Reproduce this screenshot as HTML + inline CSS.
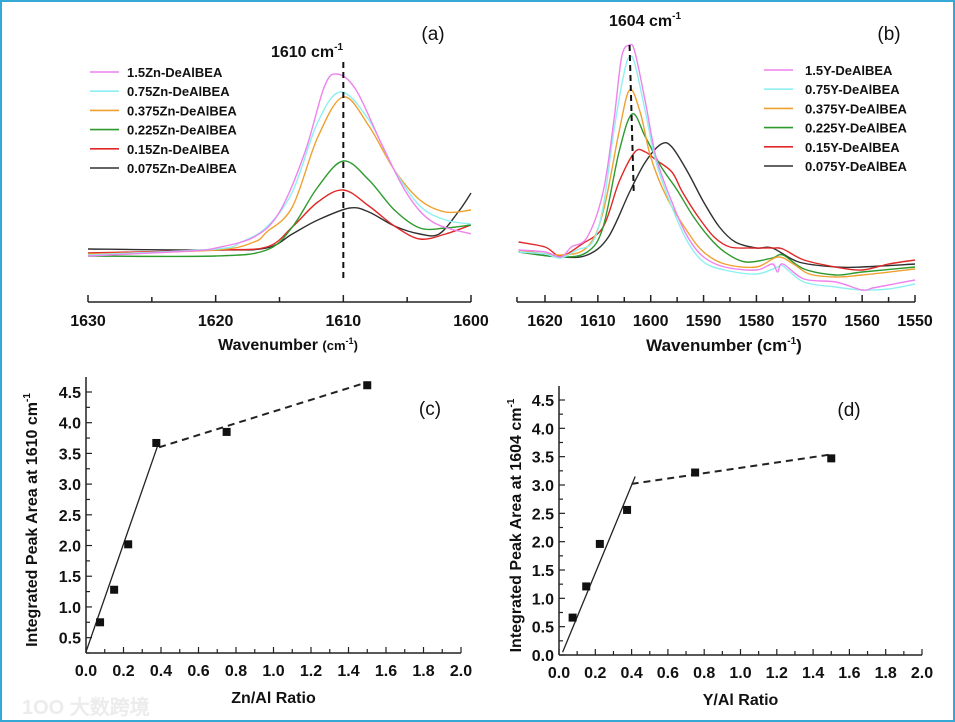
<!DOCTYPE html>
<html><head><meta charset="utf-8">
<style>
html,body{margin:0;padding:0;background:#fff;}
#wrap{position:relative;width:955px;height:722px;box-sizing:border-box;border:2px solid #35a8d6;overflow:hidden;}
svg{position:absolute;left:0;top:0;}
text{font-family:"Liberation Sans",Arial,sans-serif;}
</style></head>
<body>
<div id="wrap">
<svg id="fig" width="955" height="722" viewBox="0 0 955 722"></svg>
</div>
<script>
// ---------- DATA ----------
const seriesNamesA = ["1.5Zn-DeAlBEA","0.75Zn-DeAlBEA","0.375Zn-DeAlBEA","0.225Zn-DeAlBEA","0.15Zn-DeAlBEA","0.075Zn-DeAlBEA"];
const seriesNamesB = ["1.5Y-DeAlBEA","0.75Y-DeAlBEA","0.375Y-DeAlBEA","0.225Y-DeAlBEA","0.15Y-DeAlBEA","0.075Y-DeAlBEA"];
const seriesColors = ["#ee82ee","#8ef0f0","#f0a030","#2e9a2e","#e02828","#303030"];
const ticksA = [1630,1625,1620,1615,1610,1605,1600];
const tickLabelsA = ["1630","","1620","","1610","","1600"];
const ticksB = [1620,1615,1610,1605,1600,1595,1590,1585,1580,1575,1570,1565,1560,1555,1550];
const tickLabelsB = ["1620","","1610","","1600","","1590","","1580","","1570","","1560","","1550"];
// spectra: [wavenumber, absorbance (arb.)]
const specA_pink   = [[1630,-4],[1622,1],[1620,4],[1617,15],[1615,40],[1613,100],[1611.5,165],[1610.5,178],[1609,162],[1607,108],[1605,58],[1603,30],[1600,18]];
const specA_cyan   = [[1630,-3],[1620,3],[1618,10],[1616,25],[1614,60],[1612,130],[1610.2,160],[1608,132],[1606,82],[1604,46],[1602,32],[1600,28]];
const specA_orange = [[1630,-2],[1620,2],[1617,10],[1616,20],[1614,45],[1612,115],[1610,155],[1608,126],[1606,82],[1604,52],[1602,40],[1600,42]];
const specA_green  = [[1630,-4],[1620,-4],[1616,2],[1614,25],[1612,65],[1610,91],[1608,72],[1606,42],[1604,24],[1602,24],[1600,27]];
const specA_red    = [[1630,-1],[1620,2],[1616,5],[1614,25],[1612,50],[1610,62],[1608,46],[1606,26],[1604,13],[1602,18],[1600,27]];
const specA_black  = [[1630,3],[1620,2],[1616,4],[1614,18],[1612,32],[1609.5,44],[1608,40],[1606,26],[1604,18],[1602.5,18],[1601,40],[1600,59]];
const specB_pink   = [[1625,2],[1620,0],[1617,-5],[1615,5],[1612,15],[1609,60],[1607,130],[1605.5,195],[1604,207],[1603,200],[1601,150],[1599,95],[1596,50],[1593,15],[1590,-5],[1586,-15],[1580,-18],[1577,-12],[1576,-20],[1575,-12],[1571,-27],[1565,-30],[1560,-38],[1558,-36],[1555,-33],[1550,-28]];
const specB_cyan   = [[1625,0],[1620,-2],[1617,-6],[1614,2],[1611,10],[1609,45],[1607,120],[1605,180],[1604,195],[1603,188],[1601,140],[1599,90],[1596,45],[1593,10],[1590,-10],[1586,-18],[1580,-22],[1576,-15],[1575,-14],[1571,-30],[1565,-35],[1560,-38],[1555,-37],[1550,-32]];
const specB_orange = [[1625,2],[1617,-3],[1612,5],[1609,40],[1606,120],[1604,162],[1602,140],[1600,95],[1597,55],[1593,20],[1590,0],[1586,-12],[1580,-15],[1576,-5],[1573,-12],[1570,-22],[1565,-25],[1560,-23],[1550,-17]];
const specB_green  = [[1625,0],[1617,-5],[1612,0],[1609,25],[1606,100],[1603.5,138],[1601,115],[1598,85],[1595,62],[1592,36],[1589,15],[1586,0],[1582,-10],[1577,-6],[1575,-3],[1571,-17],[1565,-23],[1560,-20],[1550,-15]];
const specB_red    = [[1625,10],[1620,5],[1617,-4],[1613,8],[1609,25],[1606,70],[1603,100],[1601,100],[1599,92],[1596,80],[1594,60],[1591,35],[1588,15],[1585,5],[1581,4],[1577,4],[1575,3],[1571,-8],[1565,-15],[1560,-18],[1555,-12],[1550,-8]];
const specB_black  = [[1625,0],[1617,-5],[1612,-3],[1608,15],[1604,60],[1601,90],[1598,108],[1596,105],[1593,80],[1590,50],[1587,25],[1584,10],[1580,4],[1577,4],[1572,-10],[1565,-15],[1560,-15],[1550,-12]];
// ratio plots
const ratioC = [0.075,0.15,0.225,0.375,0.75,1.5];
const areaC  = [0.75,1.28,2.02,3.67,3.85,4.61];
const fitC_solid  = [[0,0.27],[0.385,3.65]];
const fitC_dashed = [[0.39,3.6],[1.5,4.66]];
const ratioD = [0.075,0.15,0.225,0.375,0.75,1.5];
const areaD  = [0.66,1.21,1.96,2.56,3.22,3.47];
const fitD_solid  = [[0.02,0.05],[0.42,3.15]];
const fitD_dashed = [[0.4,3.02],[1.5,3.54]];
const ticksX2 = [0,0.2,0.4,0.6,0.8,1.0,1.2,1.4,1.6,1.8,2.0];
const ticksY2 = [0.5,1.0,1.5,2.0,2.5,3.0,3.5,4.0,4.5];
const ticksYD = [0.0,0.5,1.0,1.5,2.0,2.5,3.0,3.5,4.0,4.5];

// ---------- HELPERS ----------
const NS="http://www.w3.org/2000/svg";
const svg=document.getElementById('fig');
function mk(tag,attrs,parent){const e=document.createElementNS(NS,tag);for(const k in attrs)e.setAttribute(k,attrs[k]);(parent||svg).appendChild(e);return e;}
function txt(x,y,s,size,anchor,weight,parent,family){const t=mk('text',{x:x,y:y,'font-size':size,'text-anchor':anchor||'middle','font-weight':weight||'bold',fill:'#111'},parent);if(family)t.setAttribute('font-family',family);t.textContent=s;return t;}
function lin(d0,d1,r0,r1){return v=>r0+(v-d0)*(r1-r0)/(d1-d0);}
function pathD(pts,sx,sy){let d='';pts.forEach((p,i)=>{d+=(i?'L':'M')+sx(p[0]).toFixed(1)+','+sy(p[1]).toFixed(1);});return d;}
function smoothD(pts,sx,sy){const P=pts.map(p=>[sx(p[0]),sy(p[1])]);let d='M'+P[0][0].toFixed(1)+','+P[0][1].toFixed(1);for(let i=0;i<P.length-1;i++){const p0=P[Math.max(0,i-1)],p1=P[i],p2=P[i+1],p3=P[Math.min(P.length-1,i+2)];const c1=[p1[0]+(p2[0]-p0[0])/6,p1[1]+(p2[1]-p0[1])/6],c2=[p2[0]-(p3[0]-p1[0])/6,p2[1]-(p3[1]-p1[1])/6];d+='C'+c1[0].toFixed(1)+','+c1[1].toFixed(1)+' '+c2[0].toFixed(1)+','+c2[1].toFixed(1)+' '+p2[0].toFixed(1)+','+p2[1].toFixed(1);}return d;}

// ---------- PANEL A ----------
(function(){
  const g=mk('g',{});
  
  
  const sx=lin(1630,1600,86,469), sy=lin(0,100,250,150);
  const axisY=300;
  const ax=mk('g',{},g);
  
  
  mk('line',{x1:86,y1:axisY,x2:469,y2:axisY,stroke:'#222','stroke-width':1.5},ax);
  ticksA.forEach((t,i)=>{mk('line',{x1:sx(t),y1:axisY,x2:sx(t),y2:axisY-(tickLabelsA[i]?7:5),stroke:'#222','stroke-width':1.5},ax);
    if(tickLabelsA[i]){const l=txt(sx(t),324,tickLabelsA[i],16,'middle','bold',ax);}});
  const xt=txt(286,348,'',16,'middle','bold',g);
  xt.innerHTML='Wavenumber <tspan font-size="13">(cm</tspan><tspan font-size="9" dy="-6">-1</tspan><tspan font-size="13" dy="6">)</tspan>';
  
  
  const specs=[specA_pink,specA_cyan,specA_orange,specA_green,specA_red,specA_black];
  for(let i=specs.length-1;i>=0;i--){const p=mk('path',{d:smoothD(specs[i],sx,sy),fill:'none',stroke:seriesColors[i],'stroke-width':1.4},g);
    
    }
  const dl=mk('line',{x1:sx(1610),y1:60,x2:sx(1610),y2:280,stroke:'#111','stroke-width':2,'stroke-dasharray':'6,4'},g);
  
  
  const pl=txt(305,55,'',16,'middle','bold',g);
  pl.innerHTML='1610 cm<tspan font-size="10" dy="-7">-1</tspan>';
  
  
  const pa=txt(431,38,'(a)',19,'middle','normal',g,'"Liberation Serif",serif');
  
  
  seriesNamesA.forEach((n,i)=>{const le=mk('g',{},g);
    
    
    const y=70+i*19.2;
    mk('line',{x1:88,y1:y,x2:117,y2:y,stroke:seriesColors[i],'stroke-width':1.6},le);
    txt(125,y+5,n,13,'start','bold',le);});
  svg.appendChild(g);
})();

// ---------- PANEL B ----------
(function(){
  const g=mk('g',{});
  
  
  const sx=lin(1620,1550,543,913), sy=lin(0,100,250,150);
  const axisY=300;
  const ax=mk('g',{},g);
  
  
  mk('line',{x1:sx(1625.3),y1:axisY,x2:913,y2:axisY,stroke:'#222','stroke-width':1.5},ax);
  mk('line',{x1:sx(1625.3),y1:axisY,x2:sx(1625.3),y2:axisY-5,stroke:'#222','stroke-width':1.5},ax);
  ticksB.forEach((t,i)=>{mk('line',{x1:sx(t),y1:axisY,x2:sx(t),y2:axisY-(tickLabelsB[i]?7:5),stroke:'#222','stroke-width':1.5},ax);
    if(tickLabelsB[i]){const l=txt(sx(t),324,tickLabelsB[i],16,'middle','bold',ax);}});
  const xt=txt(722,349,'',17,'middle','bold',g);
  xt.innerHTML='Wavenumber (cm<tspan font-size="10" dy="-7">-1</tspan><tspan dy="7">)</tspan>';
  
  
  const specs=[specB_pink,specB_cyan,specB_orange,specB_green,specB_red,specB_black];
  for(let i=specs.length-1;i>=0;i--){const p=mk('path',{d:smoothD(specs[i],sx,sy),fill:'none',stroke:seriesColors[i],'stroke-width':1.4},g);
    
    }
  const dl=mk('line',{x1:sx(1604),y1:43,x2:sx(1603.2),y2:192,stroke:'#111','stroke-width':2,'stroke-dasharray':'6,4'},g);
  
  
  const pl=txt(643,24,'',16,'middle','bold',g);
  pl.innerHTML='1604 cm<tspan font-size="10" dy="-7">-1</tspan>';
  
  
  const pb=txt(887,38,'(b)',19,'middle','normal',g,'"Liberation Serif",serif');
  
  
  seriesNamesB.forEach((n,i)=>{const le=mk('g',{},g);
    
    
    const y=68+i*19.2;
    mk('line',{x1:762,y1:y,x2:791,y2:y,stroke:seriesColors[i],'stroke-width':1.6},le);
    txt(803,y+5,n,13,'start','bold',le);});
  svg.appendChild(g);
})();

// ---------- RATIO PANELS ----------
function ratioPanel(o){
  const g=mk('g',{});
  
  
  const sx=lin(0,2,o.x0,o.x1), sy=lin(o.ymin,4.5,o.yb,o.y45);
  const ax=mk('g',{},g);
  
  
  mk('line',{x1:o.x0,y1:o.yb,x2:o.x1,y2:o.yb,stroke:'#222','stroke-width':1.5},ax);
  mk('line',{x1:o.x0,y1:o.yb,x2:o.x0,y2:o.ytop,stroke:'#222','stroke-width':1.5},ax);
  for(let v=0;v<=2.0001;v+=0.1){const maj=Math.abs(v*5-Math.round(v*5))<1e-6;mk('line',{x1:sx(v),y1:o.yb,x2:sx(v),y2:o.yb-(maj?6:4),stroke:'#222','stroke-width':1.2},ax);}
  ticksX2.forEach(t=>{const l=txt(sx(t),o.yb+23,t.toFixed(1),16,'middle','bold',ax);});
  for(let v=0;v<=4.8;v+=0.25){const y=sy(v);if(y>o.yb+0.5||y<o.ytop)continue;const maj=Math.abs(v*2-Math.round(v*2))<1e-6;mk('line',{x1:o.x0,y1:y,x2:o.x0+(maj?6:4),y2:y,stroke:'#222','stroke-width':1.2},ax);}
  o.yticks.forEach(t=>{const l=txt(o.x0-5,sy(t)+6,t.toFixed(1),16,'end','bold',ax);});
  const xt=txt((o.x0+o.x1)/2,o.yb+50,o.xtitle,16,'middle','bold',g);
  
  
  const yt=txt(0,0,'',16,'middle','bold',g);
  yt.innerHTML=o.ytitle+'<tspan font-size="10" dy="-7">-1</tspan>';
  yt.setAttribute('transform','translate('+o.ytx+','+((o.yb+o.ytop)/2+5)+') rotate(-90)');
  
  
  const s=mk('path',{d:pathD(o.solid,sx,sy),stroke:'#222','stroke-width':1.3,fill:'none'},g);
  
  
  const d=mk('path',{d:pathD(o.dashed,sx,sy),stroke:'#222','stroke-width':2,fill:'none','stroke-dasharray':'7,5'},g);
  
  
  o.xs.forEach((x,i)=>{const r=mk('rect',{x:sx(x)-4,y:sy(o.ys[i])-4,width:8,height:8,fill:'#111'},g);
    
    });
  const pl=txt(o.lx,o.ly,o.label,19,'middle','normal',g,'"Liberation Serif",serif');
  
  
}
ratioPanel({name:'panel-c',x0:84,x1:459,yb:651,ymin:0.25,y45:390,ytop:375,yticks:ticksY2,xs:ratioC,ys:areaC,solid:fitC_solid,dashed:fitC_dashed,xtitle:'Zn/Al Ratio',ytitle:'Integrated Peak Area at 1610 cm',ytx:35,label:'(c)',lx:428,ly:413});
ratioPanel({name:'panel-d',x0:557,x1:920,yb:653,ymin:0,y45:398,ytop:384,yticks:ticksYD,xs:ratioD,ys:areaD,solid:fitD_solid,dashed:fitD_dashed,xtitle:'Y/Al Ratio',ytitle:'Integrated Peak Area at 1604 cm',ytx:519,label:'(d)',lx:847,ly:414});

// watermark
const wm=txt(20,712,'1OO 大数跨境',20,'start','bold',svg,'"Liberation Sans","Noto Sans CJK SC",sans-serif');
wm.setAttribute('fill','#ececec');


</script>
</body></html>
